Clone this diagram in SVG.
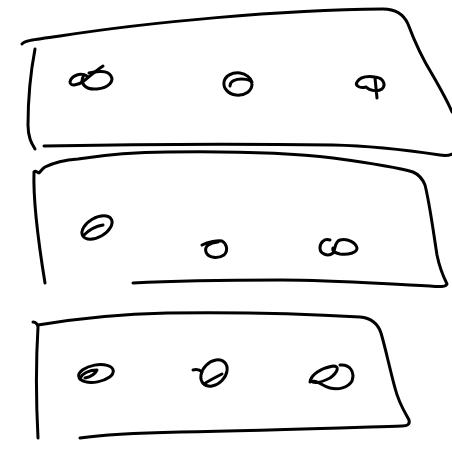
<svg xmlns="http://www.w3.org/2000/svg" width="452" height="449" viewBox="0 0 452 449">
<style>
.s{fill:none;stroke:#000;stroke-width:3;stroke-linecap:round;stroke-linejoin:round}
</style>
<rect width="452" height="449" fill="#fff"/>
<g id="panel1" class="s">
<path d="M22,44 C24,41 30,40 60,36 C150,22 280,10 383,9 C397,9 404,15 408,24 C414,40 422,58 432,74 C440,88 447,100 452,112"/>
<path d="M35,49 C31,70 28,100 28,125 C28,138 32,144 35,149"/>
<path d="M44,146 C150,144 250,144 333,145 C380,146 420,152 440,155 C446,156 450,155 452,154"/>
<path d="M87,76 C80,72 71,76 70,82 C70,87 79,85 85,80 C91,75 97,70 103,66"/>
<path d="M84,75 C79,83 85,90 97,89 C109,88 114,81 111,76 C108,70 96,71 89,73"/>
<path d="M230,86 C230,81 236,79 242,79 C248,79 252,81 252,84 C252,91 245,96 236,95 C228,94 223,88 224,82 C225,76 232,72 240,73 C246,74 251,78 252,82"/>
<path d="M366,87 C359,89 355,85 357,82 C360,77 368,76 375,77 C384,78 386,85 382,89 C378,92 370,91 366,87 M375,78 L377,98"/>
</g>
<g id="panel2" class="s">
<path d="M45,283 C38,240 33,200 34,172 C35,170 37,172 39,173 C41,171 42,169 45,167 C55,162 65,160 78,159 C110,154 140,152 167,152 C240,151 300,154 333,158 C370,163 400,168 413,172 C420,175 423,180 425,185 C430,205 433,230 437,255 C440,270 444,278 447,284 C446,287 440,287 430,286 C380,284 340,280 280,280 C220,280 170,281 133,283"/>
<ellipse cx="97" cy="227.5" rx="16.5" ry="9.5" transform="rotate(-30 97 227.5)"/>
<path d="M84,235 C90,229 97,226 103,225"/>
<path d="M202,245 C208,242 218,240 222,241 C226,243 229,250 224,255 C218,259 208,258 206,252 C204,246 210,243 218,242"/>
<path d="M330,240 C324,238 320,243 320,248 C320,254 328,257 333,253 C336,249 334,242 340,240 C348,238 356,243 357,248 C357,253 348,255 340,254 C335,253 332,251 333,248"/>
</g>
<g id="panel3" class="s">
<path d="M33,322 C36,322 38,325 38,327 C36,360 36,400 38,438"/>
<path d="M38,325 C80,318 120,314 167,313 C240,312 310,314 360,317 C372,318 378,324 381,333 C386,350 390,370 395,388 C399,404 406,414 409,420 C410,424 408,426 402,426 C340,428 260,431 180,432 C130,433 100,435 80,438"/>
<ellipse cx="96" cy="373.5" rx="17.5" ry="8.5" transform="rotate(-10 96 373.5)"/>
<path d="M80,379 C82,373 90,370 97,370 C95,374 90,377 85,378"/>
<ellipse cx="214" cy="373" rx="15" ry="11" transform="rotate(-45 214 373)"/>
<path d="M193,370 C197,369 200,370 202,372 M204,384 C210,380 216,377 222,374"/>
<path d="M310,382 C311,374 322,368 333,366 C340,366 338,372 330,378 C322,382 314,384 311,381 C318,380 322,386 330,388 C338,390 348,388 352,381 C355,372 350,364 340,365"/>
</g>
</svg>
